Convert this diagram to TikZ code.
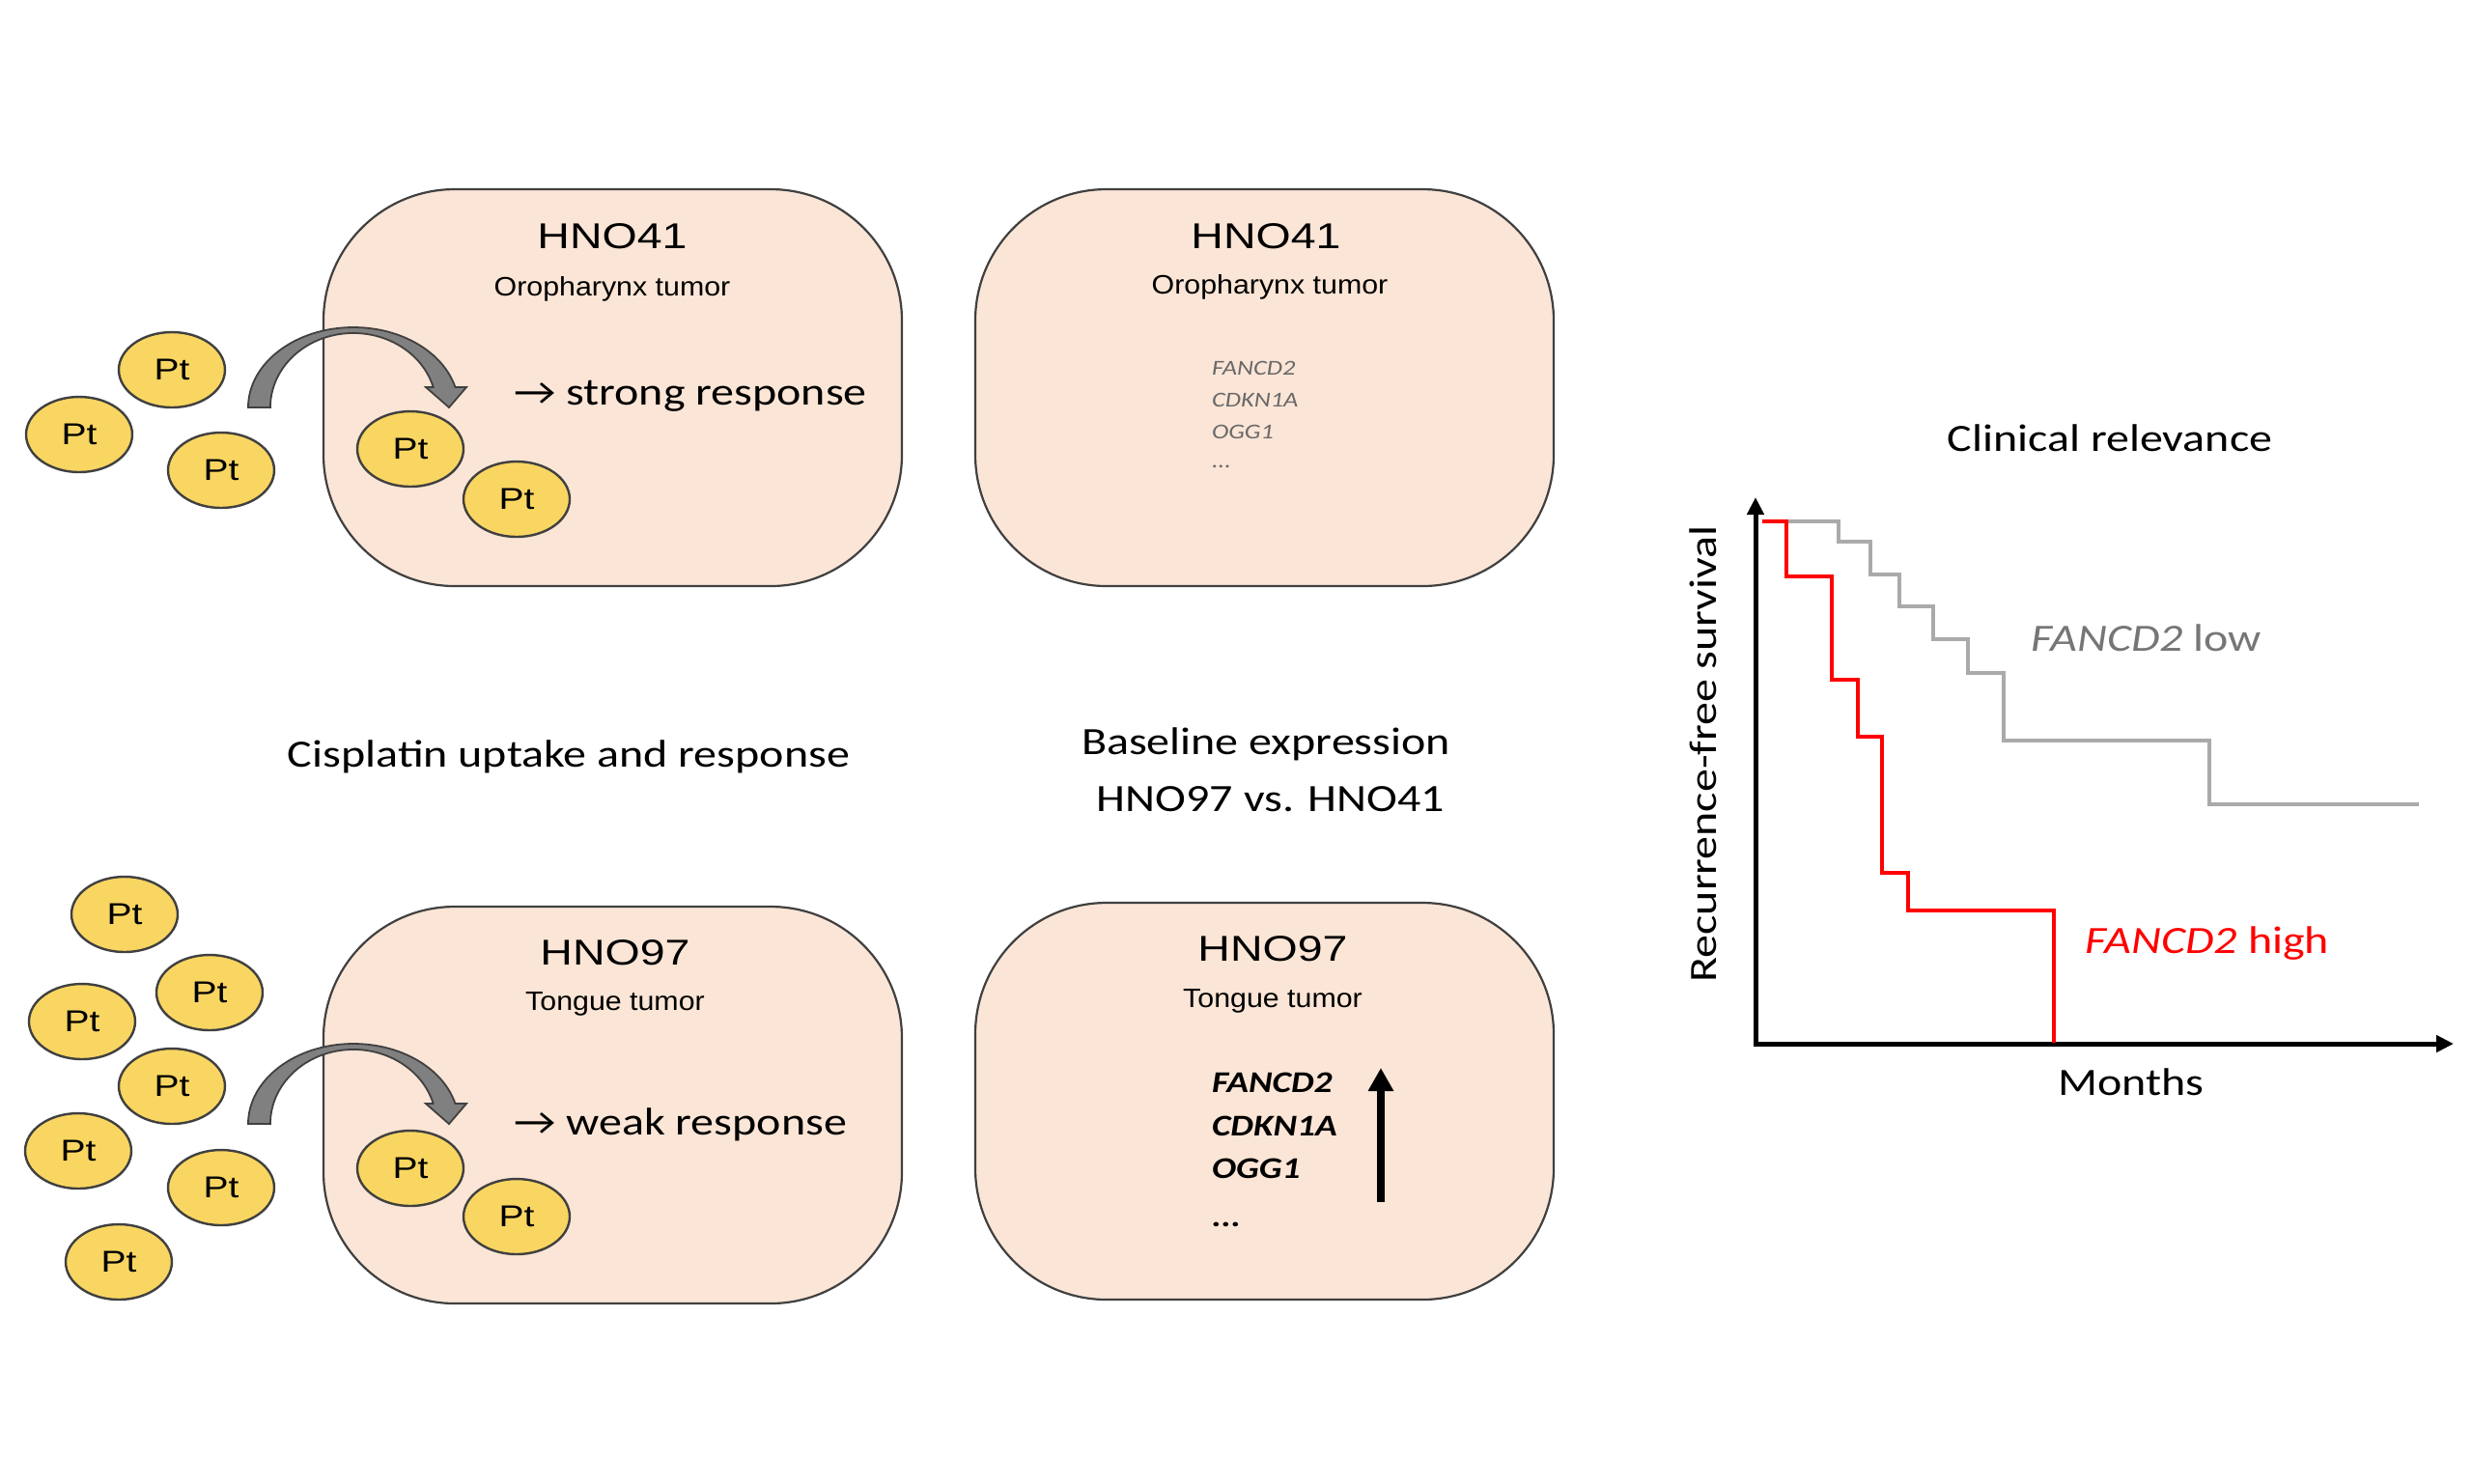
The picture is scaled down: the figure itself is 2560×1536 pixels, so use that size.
\documentclass[tikz,border=0pt]{standalone}
\usepackage{fontspec}
\setmainfont{Carlito}[FakeStretch=1.2]
\newfontfamily\arialfont{Liberation Sans}[FakeStretch=1.25]
\newfontfamily\arialslim{Liberation Sans}[FakeStretch=1.1]
\usetikzlibrary{shapes.geometric,arrows.meta,positioning}

\definecolor{cellfill}{RGB}{251,229,214}
\definecolor{celldraw}{RGB}{64,64,64}
\definecolor{ptfill}{RGB}{249,214,98}
\definecolor{arrowgray}{RGB}{128,128,128}
\definecolor{lowgray}{RGB}{170,170,170}
\definecolor{lowtext}{RGB}{118,118,118}
\definecolor{genegray}{RGB}{105,105,105}
\definecolor{highred}{RGB}{255,0,0}

\tikzset{every picture/.style={line width=0.5pt}}
\tikzset{
  cell/.style={draw=celldraw, fill=cellfill, rounded corners=34pt, minimum width=149.75pt, minimum height=102.75pt, inner sep=0pt, line width=0.55pt},
  ptdrop/.style={ellipse, draw=celldraw, fill=ptfill, minimum width=27.5pt, minimum height=19.5pt, inner sep=0pt, line width=0.6pt, font=\arialfont\fontsize{7.8}{8}\selectfont},
  cellname/.style={inner sep=0pt, anchor=mid, font=\arialfont\fontsize{9.3}{10}\selectfont},
  tumortype/.style={inner sep=0pt, anchor=mid, font=\arialslim\fontsize{6.9}{7}\selectfont},
  response/.style={inner sep=0pt, anchor=mid west, font=\fontsize{10}{12}\selectfont},
  headtext/.style={inner sep=0pt, anchor=mid, font=\fontsize{10}{12}\selectfont},
  genelow/.style={inner sep=0pt, anchor=mid west, text=genegray, font=\itshape\fontsize{5.5}{6}\selectfont},
  genehigh/.style={inner sep=0pt, anchor=mid west, font=\bfseries\itshape\fontsize{7.8}{9}\selectfont},
  uptake/.style={fill=arrowgray, draw=celldraw, line width=0.45pt, line join=miter},
  axis/.style={line width=1.25pt, {Triangle[width=4.25pt,length=4.5pt]}-{Triangle[width=4.25pt,length=4.5pt]}},
  kmcurve/.style={line width=1pt, line join=miter},
}

\begin{document}
\begin{tikzpicture}[x=0.25pt,y=0.25pt,yscale=-1,xscale=1]
\useasboundingbox (0,0) rectangle (2560,1536);

%Shape: Rounded Rect
\node[cell] (cellTL) at (634.5,401.5) {};
%Shape: Rounded Rect
\node[cell] (cellTM) at (1309.5,401.5) {};
%Shape: Rounded Rect
\node[cell] (cellBL) at (634.5,1144.5) {};
%Shape: Rounded Rect
\node[cell] (cellBM) at (1309.5,1140.5) {};

%Curved Arrow
\draw[uptake] (257,422) arc[start angle=180, end angle=345.3, x radius=109, y radius=83] -- (483,401) -- (465,422) -- (441,401) -- (448.7,401) arc[start angle=344.2, end angle=180, x radius=86, y radius=77] -- cycle;
%Curved Arrow
\draw[uptake] (257,1164) arc[start angle=180, end angle=345.3, x radius=109, y radius=83] -- (483,1143) -- (465,1164) -- (441,1143) -- (448.7,1143) arc[start angle=344.2, end angle=180, x radius=86, y radius=77] -- cycle;

%Shape: Ellipse
\node[ptdrop] (ptA1) at (178,383) {Pt};
\node[ptdrop] (ptA2) at (82,450) {Pt};
\node[ptdrop] (ptA3) at (229,487) {Pt};
\node[ptdrop] (ptA4) at (425,465) {Pt};
\node[ptdrop] (ptA5) at (535,517) {Pt};
%Shape: Ellipse
\node[ptdrop] (ptB1) at (129,947) {Pt};
\node[ptdrop] (ptB2) at (217,1028) {Pt};
\node[ptdrop] (ptB3) at (85,1058) {Pt};
\node[ptdrop] (ptB4) at (178,1125) {Pt};
\node[ptdrop] (ptB5) at (81,1192) {Pt};
\node[ptdrop] (ptB6) at (229,1230) {Pt};
\node[ptdrop] (ptB7) at (123,1307) {Pt};
\node[ptdrop] (ptB8) at (425,1210) {Pt};
\node[ptdrop] (ptB9) at (535,1260) {Pt};

% Text Node
\node[cellname] (nameTL) at (634,248) {HNO41};
\node[tumortype] (typeTL) at (634,297) {Oropharynx tumor};
\node[response] (respTL) at (531,410) {→ strong response};
% Text Node
\node[cellname] (nameTM) at (1311,248) {HNO41};
\node[tumortype] (typeTM) at (1315,295) {Oropharynx tumor};
\node[genelow] (geneTM1) at (1254,379) {FANCD2};
\node[genelow] (geneTM2) at (1254,412) {CDKN1A};
\node[genelow] (geneTM3) at (1254,445) {OGG1};
\node[genelow, anchor=base west] (geneTM4) at (1254,484) {...};
% Text Node
\node[cellname] (nameBL) at (637,990) {HNO97};
\node[tumortype] (typeBL) at (637,1037) {Tongue tumor};
\node[response] (respBL) at (531,1166) {→ weak response};
% Text Node
\node[cellname] (nameBM) at (1318,986) {HNO97};
\node[tumortype] (typeBM) at (1318,1034) {Tongue tumor};
\node[genehigh] (geneBM1) at (1254,1122) {FANCD2};
\node[genehigh] (geneBM2) at (1254,1167) {CDKN1A};
\node[genehigh] (geneBM3) at (1254,1211) {OGG1};
\node[genehigh, anchor=base west] (geneBM4) at (1254,1270) {...};

%Straight Lines
\coordinate (upS) at (1430,1245);
\coordinate (upE) at (1430,1106);
\draw[line width=2pt, -{Triangle[width=6.25pt,length=6pt]}] (upS) -- (upE);

% Text Node
\node[headtext] (cisTitle) at (589,785) {Cisplatin uptake and response};
\node[headtext] (baseTitle) at (1311,772) {Baseline expression};
\node[headtext] (baseTitle2) at (1316,831) {HNO97 vs. HNO41};
\node[headtext] (clinTitle) at (2185,458) {Clinical relevance};

%Straight Lines
\coordinate (origin) at (1818,1081);
\coordinate (ytip) at (1818,515);
\coordinate (xtip) at (2541,1081);
\draw[axis] (ytip) -- (origin) -- (xtip);

%Step Lines
\draw[kmcurve, lowgray] (1825,540) -- (1904,540) -- (1904,561) -- (1937,561) -- (1937,595) -- (1967,595) -- (1967,628) -- (2002,628) -- (2002,662) -- (2038,662) -- (2038,697) -- (2075,697) -- (2075,767) -- (2288,767) -- (2288,833) -- (2505,833);
\draw[kmcurve, highred] (1825,540) -- (1850,540) -- (1850,597) -- (1897,597) -- (1897,704) -- (1924,704) -- (1924,763) -- (1949,763) -- (1949,904) -- (1976,904) -- (1976,943) -- (2127,943) -- (2127,1080);

% Text Node
\node[headtext, text=lowtext] (lowLabel) at (2223,665) {\textit{FANCD2} low};
\node[headtext, text=highred] (highLabel) at (2286,978) {\textit{FANCD2} high};
\node[headtext] (xLabel) at (2207,1125) {Months};
\node[headtext, rotate=90] (yLabel) at (1768,781) {Recurrence-free survival};

\end{tikzpicture}
\end{document}
